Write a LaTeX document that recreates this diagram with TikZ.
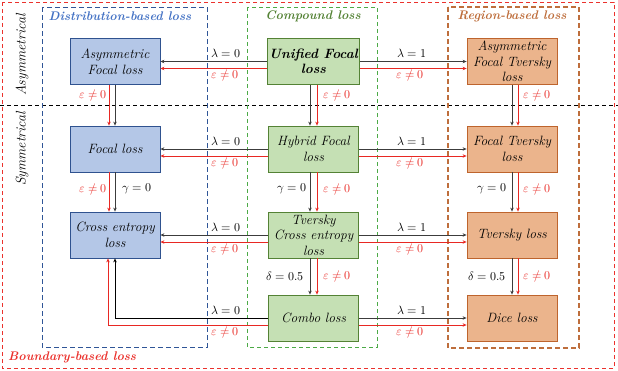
\documentclass[tikz,border=0pt]{standalone}
\usepackage{amsmath}
\usepackage{unicode-math}
\setmathfont{Latin Modern Math}
\usetikzlibrary{arrows.meta}
\definecolor{bfill}{RGB}{180,199,231}
\definecolor{bdraw}{RGB}{47,82,143}
\definecolor{gfill}{RGB}{197,224,180}
\definecolor{gdraw}{RGB}{84,130,53}
\definecolor{ofill}{RGB}{235,180,140}
\definecolor{odraw}{RGB}{190,100,45}
\definecolor{bdash}{RGB}{47,85,151}
\definecolor{gdash}{RGB}{76,170,70}
\definecolor{odash}{RGB}{190,110,60}
\definecolor{rdash}{RGB}{235,50,45}
\definecolor{btitle}{RGB}{68,114,196}
\definecolor{gtitle}{RGB}{84,130,53}
\definecolor{otitle}{RGB}{190,110,60}
\definecolor{darkl}{RGB}{60,60,60}
\definecolor{redl}{RGB}{232,40,35}
\tikzset{
  lossbox/.style={minimum width=90pt,minimum height=46pt,inner sep=2pt,align=center,
    font=\fontsize{13.5}{15.5}\selectfont\itshape,line width=0.8pt},
  bbox/.style={lossbox,fill=bfill,draw=bdraw},
  gbox/.style={lossbox,fill=gfill,draw=gdraw},
  obox/.style={lossbox,fill=ofill,draw=odraw},
  blk/.style={draw=darkl,line width=0.8pt,-{Stealth[length=4pt,width=3.5pt]}},
  rd/.style={draw=redl,line width=0.8pt,-{Stealth[length=4pt,width=3.5pt]}},
  lab/.style={font=\fontsize{12}{14}\selectfont,inner sep=0pt},
  rlab/.style={lab,text=redl},
  ttl/.style={font=\fontsize{12.5}{14}\selectfont\bfseries\itshape,inner sep=0pt},
  side/.style={font=\fontsize{14}{16}\selectfont\itshape,rotate=90,inner sep=0pt}
}
\begin{document}
\begin{tikzpicture}[x=1pt,y=-1pt]
\useasboundingbox (0,0) rectangle (618,370);
% frames
\draw[rdash,line width=1pt,dash pattern=on 4pt off 3pt] (2,2) rectangle (614,368);
\draw[black,line width=0.8pt,dash pattern=on 4pt off 3pt] (0,105) -- (618,105);
\draw[bdash,line width=1pt,dash pattern=on 5pt off 3pt] (42,7) rectangle (207,347);
\draw[gdash,line width=0.8pt,dash pattern=on 4pt off 3pt] (247,7) rectangle (377,347);
\draw[odash,line width=1.5pt,dash pattern=on 5pt off 3pt] (448,7) rectangle (579,348);
% titles
\node[ttl,text=btitle] (tdist) at (120,16) {Distribution-based loss};
\node[ttl,text=gtitle] (tcomp) at (313,16) {Compound loss};
\node[ttl,text=otitle] (treg) at (512,16) {Region-based loss};
\node[ttl,text=rdash,anchor=west] (tbnd) at (8,357) {Boundary-based loss};
\node[side] (sasym) at (22,55) {Asymmetrical};
\node[side] (ssym) at (22,149) {Symmetrical};
% nodes
\node[bbox] (AF) at (115,61.5) {Asymmetric\\Focal loss};
\node[bbox] (FL) at (115,149) {Focal loss};
\node[bbox] (CE) at (115,235) {Cross entropy\\loss};
\node[gbox] (UF) at (313.5,61.5) {\bfseries Unified Focal\\\bfseries loss};
\node[gbox] (HF) at (313.5,149) {Hybrid Focal\\loss};
\node[gbox] (TC) at (313.5,235) {Tversky\\Cross entropy\\loss};
\node[gbox] (CB) at (313.5,318) {Combo loss};
\node[obox] (AT) at (512,61.5) {Asymmetric\\Focal Tversky\\loss};
\node[obox] (FT) at (512,149) {Focal Tversky\\loss};
\node[obox] (TV) at (512,235) {Tversky loss};
\node[obox] (DL) at (512,318) {Dice loss};
% horizontal connectors left
\draw[blk] (UF.west) -- (AF.east);
\draw[rd] ([yshift=-7pt]UF.west) -- ([yshift=-7pt]AF.east);
\draw[blk] (HF.west) -- (FL.east);
\draw[rd] ([yshift=-7pt]HF.west) -- ([yshift=-7pt]FL.east);
\draw[blk] (TC.west) -- (CE.east);
\draw[rd] ([yshift=-7pt]TC.west) -- ([yshift=-7pt]CE.east);
\draw[draw=black,line width=1pt,-{Stealth[length=4pt,width=3.5pt]}] (CB.west) -| (CE.south);
\draw[rd] ([yshift=-7pt]CB.west) -| ([xshift=-7pt]CE.south);
% horizontal connectors right
\draw[blk] (UF.east) -- (AT.west);
\draw[rd] ([yshift=-7pt]UF.east) -- ([yshift=-7pt]AT.west);
\draw[blk] (HF.east) -- (FT.west);
\draw[rd] ([yshift=-7pt]HF.east) -- ([yshift=-7pt]FT.west);
\draw[blk] (TC.east) -- (TV.west);
\draw[rd] ([yshift=-7pt]TC.east) -- ([yshift=-7pt]TV.west);
\draw[blk] (CB.east) -- (DL.west);
\draw[rd] ([yshift=-7pt]CB.east) -- ([yshift=-7pt]DL.west);
% horizontal labels
\node[lab] (ll1) at (226,53.5) {$\lambda=0$};
\node[rlab] (le1) at (225,75.5) {$\varepsilon\neq0$};
\node[lab] (rl1) at (412,53.5) {$\lambda=1$};
\node[rlab] (re1) at (410,75.5) {$\varepsilon\neq0$};
\node[lab] (ll2) at (226,141) {$\lambda=0$};
\node[rlab] (le2) at (225,163) {$\varepsilon\neq0$};
\node[lab] (rl2) at (412,141) {$\lambda=1$};
\node[rlab] (re2) at (410,163) {$\varepsilon\neq0$};
\node[lab] (ll3) at (226,227) {$\lambda=0$};
\node[rlab] (le3) at (225,249) {$\varepsilon\neq0$};
\node[lab] (rl3) at (412,227) {$\lambda=1$};
\node[rlab] (re3) at (410,249) {$\varepsilon\neq0$};
\node[lab] (ll4) at (226,310) {$\lambda=0$};
\node[rlab] (le4) at (225,332) {$\varepsilon\neq0$};
\node[lab] (rl4) at (412,310) {$\lambda=1$};
\node[rlab] (re4) at (410,332) {$\varepsilon\neq0$};
% vertical connectors blue
\draw[blk] (AF.south) -- (FL.north);
\draw[rd] ([xshift=-6pt]AF.south) -- ([xshift=-6pt]FL.north);
\draw[blk] (FL.south) -- (CE.north);
\draw[rd] ([xshift=-6pt]FL.south) -- ([xshift=-6pt]CE.north);
% vertical connectors green
\draw[blk] ([xshift=-3.5pt]UF.south) -- ([xshift=-3.5pt]HF.north);
\draw[rd] ([xshift=3.5pt]UF.south) -- ([xshift=3.5pt]HF.north);
\draw[blk] ([xshift=-3.5pt]HF.south) -- ([xshift=-3.5pt]TC.north);
\draw[rd] ([xshift=3.5pt]HF.south) -- ([xshift=3.5pt]TC.north);
\draw[blk] ([xshift=-3.5pt]TC.south) -- ([xshift=-3.5pt]CB.north);
\draw[rd] ([xshift=3.5pt]TC.south) -- ([xshift=3.5pt]CB.north);
% vertical connectors orange
\draw[blk] (AT.south) -- (FT.north);
\draw[rd] ([xshift=6pt]AT.south) -- ([xshift=6pt]FT.north);
\draw[blk] (FT.south) -- (TV.north);
\draw[rd] ([xshift=6pt]FT.south) -- ([xshift=6pt]TV.north);
\draw[blk] (TV.south) -- (DL.north);
\draw[rd] ([xshift=6pt]TV.south) -- ([xshift=6pt]DL.north);
% vertical labels
\node[rlab] (v1) at (93,95) {$\varepsilon\neq0$};
\node[rlab] (v2) at (93,189) {$\varepsilon\neq0$};
\node[lab] (v3) at (137,189) {$\gamma=0$};
\node[rlab] (v4) at (337,95) {$\varepsilon\neq0$};
\node[lab] (v5) at (292,189) {$\gamma=0$};
\node[rlab] (v6) at (337,189) {$\varepsilon\neq0$};
\node[lab] (v7) at (285,276) {$\delta=0.5$};
\node[rlab] (v8) at (337,276) {$\varepsilon\neq0$};
\node[rlab] (v9) at (537,95) {$\varepsilon\neq0$};
\node[lab] (v10) at (492,189) {$\gamma=0$};
\node[rlab] (v11) at (537,189) {$\varepsilon\neq0$};
\node[lab] (v12) at (487,276) {$\delta=0.5$};
\node[rlab] (v13) at (537,276) {$\varepsilon\neq0$};
\end{tikzpicture}
\end{document}
